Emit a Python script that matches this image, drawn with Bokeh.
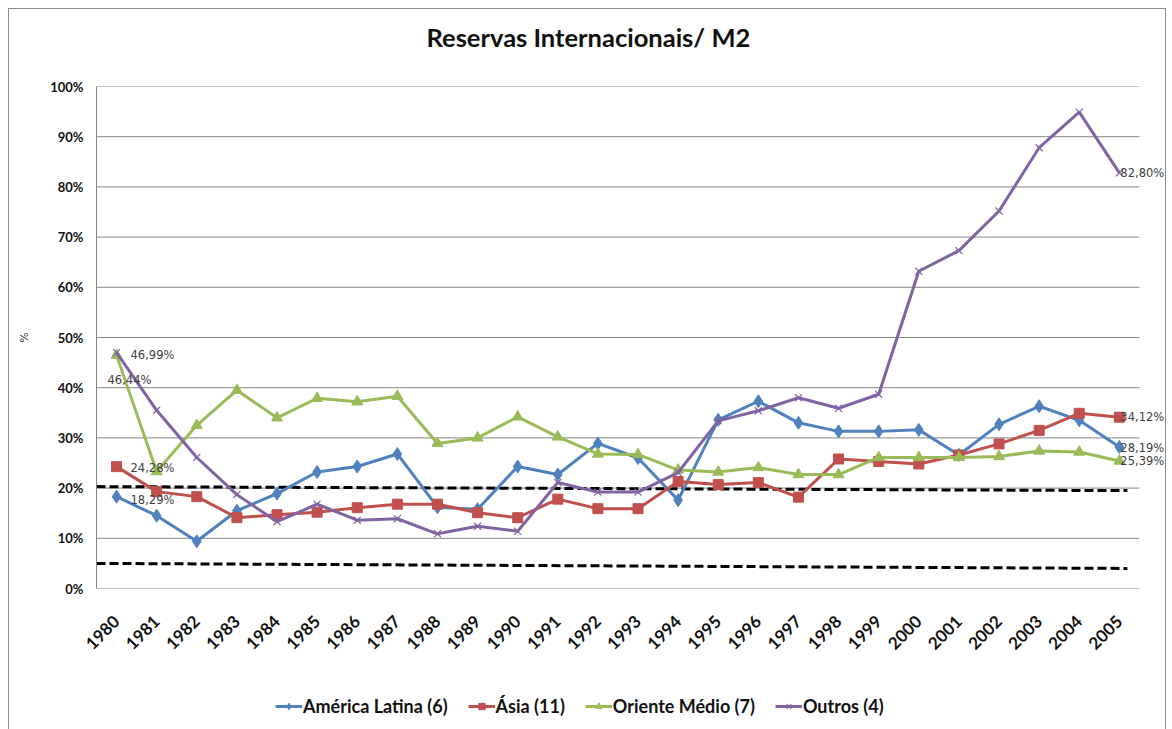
import math
from bokeh.plotting import figure
from bokeh.layouts import column
from bokeh.models import (ColumnDataSource, FixedTicker, PrintfTickFormatter, Legend,
                          LegendItem, Range1d)
from bokeh.core.properties import value
from bokeh.embed import file_html
from bokeh.resources import INLINE

# ---------------- data ----------------
years = ["1980", "1981", "1982", "1983", "1984", "1985", "1986", "1987", "1988",
         "1989", "1990", "1991", "1992", "1993", "1994", "1995", "1996", "1997",
         "1998", "1999", "2000", "2001", "2002", "2003", "2004", "2005"]

america_latina = [18.29, 14.5, 9.4, 15.5, 18.9, 23.2, 24.3, 26.8, 16.2, 15.8, 24.3, 22.7, 28.9,
                  26.0, 17.6, 33.6, 37.3, 33.0, 31.3, 31.3, 31.6, 26.6, 32.7, 36.3, 33.5, 28.19]
asia = [24.28, 19.3, 18.3, 14.1, 14.7, 15.2, 16.1, 16.8, 16.8, 15.1, 14.1, 17.8, 15.9,
        15.9, 21.3, 20.7, 21.1, 18.2, 25.8, 25.3, 24.8, 26.6, 28.8, 31.5, 34.9, 34.12]
oriente_medio = [46.44, 23.3, 32.5, 39.5, 34.0, 37.9, 37.2, 38.3, 28.9, 30.0, 34.2, 30.2, 26.8,
                 26.7, 23.6, 23.2, 24.1, 22.7, 22.7, 26.1, 26.1, 26.1, 26.3, 27.4, 27.2, 25.39]
outros = [46.99, 35.5, 26.1, 18.7, 13.3, 16.8, 13.6, 13.9, 10.9, 12.4, 11.4, 21.1, 19.2,
          19.2, 23.1, 33.4, 35.4, 38.0, 35.9, 38.7, 63.2, 67.3, 75.2, 87.8, 94.9, 82.80]

series_names = ["América Latina (6)", "Ásia (11)", "Oriente Médio (7)", "Outros (4)"]

# dashed reference bands (x in index units, y in %)
band_x = [-0.5, 25.2]
band_upper = [20.3, 19.5]
band_lower = [5.0, 4.0]

y_ticks = [0, 10, 20, 30, 40, 50, 60, 70, 80, 90, 100]

# ---------------- style ----------------
colors = ["#4F81BD", "#C0504D", "#9BBB59", "#8064A2"]
markers = ["diamond", "square", "triangle", "x"]
msizes = [13, 10, 11, 10]
FONT = "Lato"
GRID = "#868686"

x_idx = list(range(len(years)))
x_lo = -0.5
x_hi = len(years) - 0.5
extra_right = 0.65   # room for the end-of-series labels

p = figure(frame_width=1069, frame_height=502, output_backend="svg", toolbar_location=None,
           x_range=Range1d(x_lo, x_hi + extra_right), y_range=Range1d(0, 100),
           min_border_left=87, min_border_right=0, min_border_top=77, min_border_bottom=85)
p.outline_line_color = None
p.background_fill_color = "white"
p.border_fill_color = "white"

# title; the empty second line lifts the visible line away from the frame
p.title.text = "Reservas Internacionais/ M2\n "
p.title.align = "left"
p.title.offset = 330
p.title.vertical_align = "bottom"
p.title.standoff = 9
p.title.text_font = FONT
p.title.text_font_size = "25.5px"
p.title.text_font_style = "bold"
p.title.text_color = "#111111"

# axes
p.xaxis.ticker = FixedTicker(ticks=x_idx)
p.xaxis.major_label_overrides = {i: y for i, y in zip(x_idx, years)}
p.xaxis.major_label_orientation = math.pi / 4
p.xaxis.major_label_text_font = FONT
p.xaxis.major_label_text_font_size = "17px"
p.xaxis.major_label_text_font_style = "bold"
p.xaxis.major_label_text_color = "#111111"
p.xaxis.major_label_standoff = 30
p.xaxis.axis_line_color = None
p.xaxis.major_tick_line_color = None
p.xaxis.minor_tick_line_color = None
p.xaxis.major_tick_out = 0
p.xaxis.major_tick_in = 0

p.yaxis.ticker = FixedTicker(ticks=y_ticks)
p.yaxis.formatter = PrintfTickFormatter(format="%d%%")
p.yaxis.major_label_text_font = FONT
p.yaxis.major_label_text_font_size = "13px"
p.yaxis.major_label_text_font_style = "bold"
p.yaxis.major_label_text_color = "#111111"
p.yaxis.major_label_standoff = 13
p.yaxis.major_tick_out = 0
p.yaxis.major_tick_in = 0
p.yaxis.axis_line_color = GRID
p.yaxis.major_tick_line_color = None
p.yaxis.minor_tick_line_color = None
p.yaxis.axis_label = "%"
p.yaxis.axis_label_text_font = "DejaVu Sans"
p.yaxis.axis_label_text_font_size = "11px"
p.yaxis.axis_label_text_font_style = "normal"
p.yaxis.axis_label_text_color = "#333333"
p.yaxis.axis_label_standoff = 16

p.xgrid.grid_line_color = None
p.ygrid.grid_line_color = None

# horizontal gridlines across the category area only
p.segment(x0=[x_lo] * len(y_ticks), x1=[x_hi] * len(y_ticks), y0=y_ticks, y1=y_ticks,
          line_color=GRID, line_width=1)

# dashed bands
for band in (band_upper, band_lower):
    p.line(band_x, band, line_color="black", line_width=3, line_dash="9 4")

# legend strip (own small canvas below the chart; its ranges keep the series out of view)
leg = figure(width=1156, height=56, output_backend="svg", toolbar_location=None,
             x_range=Range1d(1000, 1001), y_range=Range1d(1000, 1001), min_border=0)
leg.axis.visible = False
leg.grid.grid_line_color = None
leg.outline_line_color = None
leg.background_fill_color = "white"
leg.border_fill_color = "white"

# series
all_series = [america_latina, asia, oriente_medio, outros]
items = []
for name, vals, c, m, s in zip(series_names, all_series, colors, markers, msizes):
    src = ColumnDataSource(dict(x=x_idx, y=vals))
    p.line("x", "y", source=src, line_color=c, line_width=3)
    ln = leg.line("x", "y", source=src, line_color=c, line_width=3)
    if m == "x":
        kw = dict(marker=m, size=s, line_color=c, line_width=1.2)
    else:
        kw = dict(marker=m, size=s, fill_color=c, line_color=c)
    p.scatter("x", "y", source=src, **kw)
    sc = leg.scatter("x", "y", source=src, **kw)
    items.append(LegendItem(label=name, renderers=[ln, sc]))

# data labels (first and last points)
def fmt(v):
    return ("%.2f%%" % v).replace(".", ",")

label_specs = [
    # series, index, x_offset, y_offset
    (outros, 0, 14, 2),
    (oriente_medio, 0, -9, 25),
    (asia, 0, 14, 1),
    (america_latina, 0, 14, 3),
    (outros, -1, 1, 0),
    (asia, -1, 1, 0),
    (america_latina, -1, 1, 1),
    (oriente_medio, -1, 1, 0),
]
for ser, idx, xo, yo in label_specs:
    p.text(x=[x_idx[idx]], y=[ser[idx]], text=[fmt(ser[idx])], x_offset=xo, y_offset=yo,
           text_font=value("DejaVu Sans"), text_font_size="11.5px", text_color="#404040",
           text_align="left", text_baseline="middle")

legend = Legend(items=items, orientation="horizontal", location=(179, 12))
legend.label_text_font = FONT
legend.label_text_font_size = "18px"
legend.label_text_font_style = "bold"
legend.label_text_color = "#111111"
legend.glyph_width = 27
legend.glyph_height = 16
legend.label_standoff = 1
legend.spacing = 20
legend.border_line_color = None
legend.background_fill_alpha = 0
legend.margin = 0
legend.padding = 4
leg.add_layout(legend, "center")

page = column(p, leg, spacing=0,
              styles={"border": "1px solid #8c8c8c", "margin-left": "8px", "margin-top": "8px"})

open("out.html", "w").write(file_html(page, INLINE))
